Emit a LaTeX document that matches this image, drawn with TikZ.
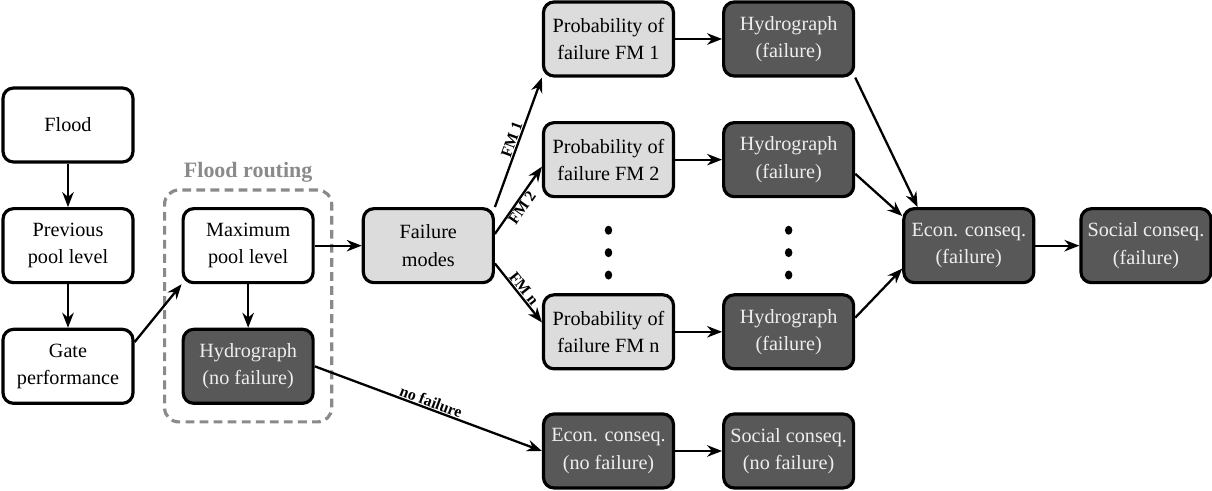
\documentclass[tikz,border=0pt]{standalone}
\usepackage{fontspec}
\setmainfont{Liberation Serif}
\usetikzlibrary{arrows.meta, positioning, fit, calc}

\definecolor{lightfill}{HTML}{DCDCDC}
\definecolor{darkfill}{HTML}{585858}
\definecolor{darktext}{HTML}{EEEEEE}
\definecolor{routegray}{HTML}{8A8A8A}

\begin{document}
\begin{tikzpicture}[node distance=0.87cm and 0.94cm, >={Stealth[length=3mm,width=2.3mm]},
        box/.style={draw, line width=1.8pt, rounded corners=6pt, minimum width=2.6cm, minimum height=1.48cm, align=center, font=\fontsize{11.5}{15.5}\selectfont},
        blk/.style={box, fill=white},
        lgt/.style={box, fill=lightfill},
        drk/.style={box, fill=darkfill, text=darktext},
        grp/.style={draw=routegray, dash pattern=on 5pt off 3pt, line width=1.8pt, rounded corners=8pt, inner sep=0.34cm},
        grplbl/.style={text=routegray, font=\bfseries\fontsize{12.5}{14}\selectfont},
        lbl/.style={font=\bfseries\fontsize{9}{10}\selectfont, sloped, inner sep=0.5pt},
        arr/.style={->, line width=1.3pt}]
        \useasboundingbox (0,0) rectangle (24.24,-9.82);
        \node[blk] (flood) at (1.36,-2.5) {Flood};
        \node[blk, below=of flood] (prev) {Previous\\pool level};
        \node[blk, below=of prev] (gate) {Gate\\performance};
        \node[blk, right=of prev] (maxpool) {Maximum\\pool level};
        \node[drk, below=of maxpool] (hydnf) {Hydrograph\\(no failure)};
        \node[grp, fit=(maxpool)(hydnf), label={[grplbl]above:Flood routing}] (routing) {};
        \node[lgt, right=of maxpool] (fmodes) {Failure\\modes};
        \node[lgt, right=of fmodes, yshift=1.72cm] (prob2) {Probability of\\failure FM 2};
        \node[lgt, above=of prob2] (prob1) {Probability of\\failure FM 1};
        \node[lgt, below=1.9cm of prob2] (probn) {Probability of\\failure FM n};
        \node[drk, below=0.84cm of probn] (econnf) {Econ. conseq.\\(no failure)};
        \node[drk, right=of prob1] (hyd1) {Hydrograph\\(failure)};
        \node[drk, right=of prob2] (hyd2) {Hydrograph\\(failure)};
        \node[drk, right=of probn] (hydn) {Hydrograph\\(failure)};
        \node[drk, right=of econnf] (socnf) {Social conseq.\\(no failure)};
        \node[drk, right=of hyd2, yshift=-1.72cm] (econf) {Econ. conseq.\\(failure)};
        \node[drk, right=0.88cm of econf] (socf) {Social conseq.\\(failure)};
        % dots between FM 2 and FM n
        \foreach \col/\low in {prob2/probn, hyd2/hydn}
            \foreach \f in {0.41, 0.54, 0.67}
                \fill ($(\col)!\f!(\low)$) ellipse (0.075cm and 0.09cm);
        \draw[arr] (flood) -- (prev);
        \draw[arr] (prev) -- (gate);
        \draw[arr] (gate.20) -- (maxpool.south west);
        \draw[arr] (maxpool) -- (hydnf);
        \draw[arr] (maxpool) -- (fmodes);
        \draw[arr] (hydnf.east) -- node[lbl, above] {no failure} (econnf.west);
        \draw[arr] (fmodes.north east) -- node[lbl, above] {FM 1} (prob1.south west);
        \draw[arr] (fmodes.10) -- node[lbl, below, pos=0.45] {FM 2} (prob2.186);
        \draw[arr] (fmodes.-15) -- node[lbl, above] {FM n} (probn.172);
        \foreach \i in {1,2,n}
            \draw[arr] (prob\i) -- (hyd\i);
        \draw[arr] (hyd1.south east) -- (econf.143);
        \draw[arr] (hyd2.-12) -- (econf.156);
        \draw[arr] (hydn.12) -- (econf.199);
        \draw[arr] (econf) -- (socf);
        \draw[arr] (econnf) -- (socnf);
    \end{tikzpicture}
\end{document}
